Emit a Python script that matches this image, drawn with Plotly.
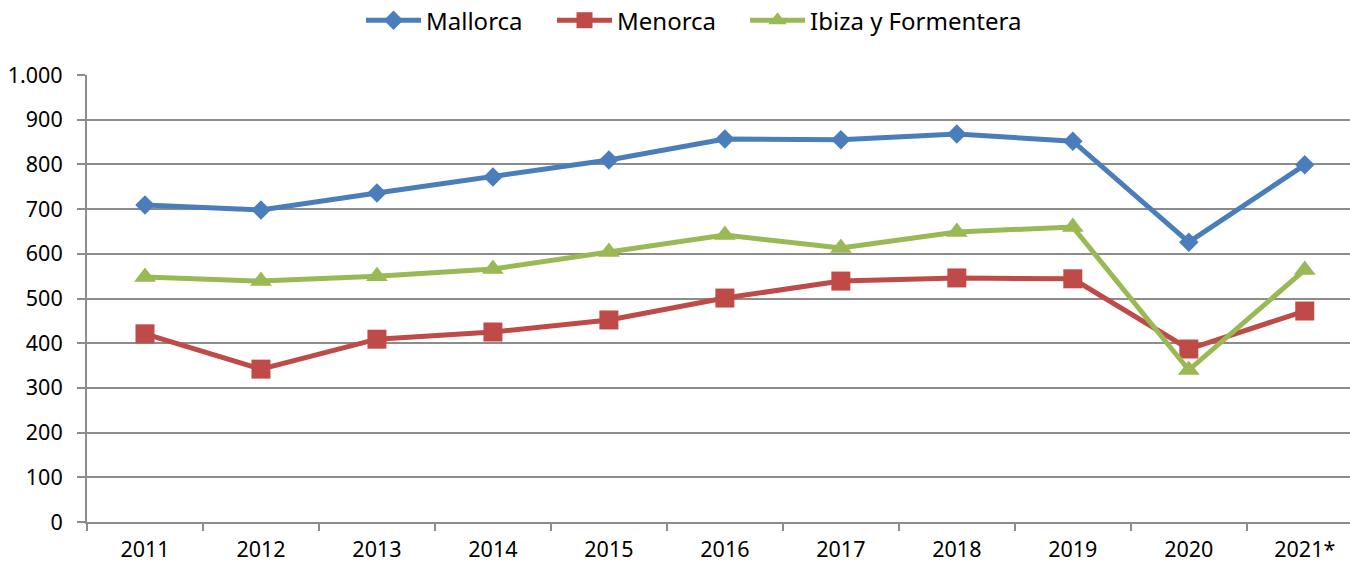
import plotly.graph_objects as go

years = ["2011", "2012", "2013", "2014", "2015", "2016", "2017", "2018", "2019", "2020", "2021*"]
mallorca = [709, 698, 736, 772, 810, 857, 855, 868, 852, 626, 799]
menorca = [421, 342, 409, 425, 452, 501, 539, 546, 544, 387, 472]
ibiza = [548, 539, 550, 566, 604, 642, 613, 649, 660, 340, 564]

series = [
    ("Mallorca", mallorca, "#4a7ebb", "diamond", 15, "legend"),
    ("Menorca", menorca, "#be4b48", "square", 19, "legend2"),
    ("Ibiza y Formentera", ibiza, "#98b954", "triangle-up", 19, "legend3"),
]

fig = go.Figure()
for name, vals, color, sym, size, lg in series:
    fig.add_trace(go.Scatter(
        x=years, y=vals, name=name, mode="lines+markers",
        line=dict(color=color, width=5),
        marker=dict(symbol=sym, size=size, color=color),
        legend=lg,
    ))

legend_x = [0.2674, 0.4089, 0.5519]
common = dict(orientation="h", xanchor="left", xref="container",
              y=1.172, yanchor="top", yref="paper",
              font=dict(size=24), itemwidth=55, bgcolor="rgba(0,0,0,0)")

fig.update_layout(
    width=1350, height=562,
    margin=dict(l=87, r=0, t=75, b=40, autoexpand=False),
    paper_bgcolor="white", plot_bgcolor="white",
    separators=",.",
    font=dict(family="Noto Sans", size=21.5, color="#000000"),
    legend=dict(x=legend_x[0], **common),
    legend2=dict(x=legend_x[1], **common),
    legend3=dict(x=legend_x[2], **common),
    showlegend=True,
)
fig.update_xaxes(
    type="category", range=[-0.5, 10.39], showgrid=False, automargin=False,
    tickson="boundaries", ticks="outside", ticklen=7, tickcolor="#8c8c8c", tickwidth=2,
    showline=True, linecolor="#8c8c8c", linewidth=2,
    tickfont=dict(size=21.5), ticklabelstandoff=7,
)
fig.update_yaxes(
    range=[0, 1000], dtick=100, tickformat=",d", automargin=False,
    showgrid=True, gridcolor="#8c8c8c", gridwidth=2,
    ticks="outside", ticklen=8, tickcolor="#8c8c8c", tickwidth=2,
    showline=True, linecolor="#8c8c8c", linewidth=2,
    zeroline=False, tickfont=dict(size=21.5), ticklabelstandoff=10,
)

fig.write_html("out.html", config={"displayModeBar": False},
               post_script="document.body.style.margin='0';")
